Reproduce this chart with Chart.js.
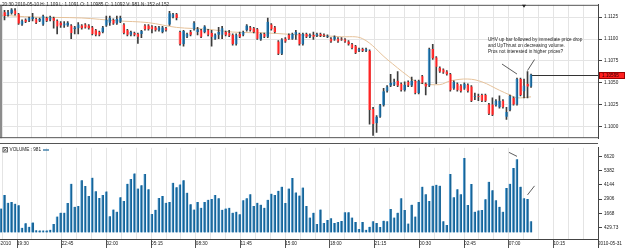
<!DOCTYPE html>
<html><head><meta charset="utf-8">
<script src="https://cdn.jsdelivr.net/npm/chart.js@4.4.1/dist/chart.umd.min.js"></script>
<style>
html,body{margin:0;padding:0;background:#fff;overflow:hidden}
#wrap{position:relative;width:625px;height:248px;background:#fff}
canvas{position:absolute;left:0}
#main{top:0}
#vol{top:143px}
</style></head><body>
<div id="wrap"><canvas id="main" width="625" height="143"></canvas><canvas id="vol" width="625" height="105"></canvas></div>
<script>
// ---------- DATA ----------
const opens = [
1.11250,1.11303,1.11271,1.11293,1.11325,1.11282,1.11165,1.11218,1.11207,1.11229,
1.11229,1.11207,1.11165,1.11239,1.11218,1.11239,1.11207,1.11186,1.11154,1.11154,
1.11154,1.11111,1.11122,1.11154,1.11165,1.11154,1.11132,1.11100,1.11079,1.11079,
1.11154,1.11186,1.11218,1.11175,1.11197,1.11165,1.11100,1.11047,1.11068,1.11058,
1.11058,1.11154,1.11154,1.11143,1.11132,1.11100,1.11079,1.11122,1.11165,1.11250,
1.11282,1.11079,1.10940,1.11026,1.11079,1.11111,1.11079,1.11100,1.11079,1.11100,
1.11068,1.11004,1.11047,1.11047,1.11079,1.11068,1.11047,1.10940,1.11058,1.11047,
1.11100,1.11132,1.11122,1.11111,1.10994,1.11058,1.11026,1.11165,1.11132,1.10972,
1.10833,1.11004,1.11047,1.11004,1.11047,1.11058,1.10940,1.11058,1.11026,1.11047,
1.11036,1.11058,1.11047,1.11026,1.11004,1.10994,1.11004,1.11004,1.10994,1.10972,
1.10940,1.10919,1.10865,1.10887,1.10865,1.10865,1.10203,1.10043,1.10117,1.10246,
1.10406,1.10470,1.10481,1.10524,1.10491,1.10417,1.10513,1.10470,1.10524,1.10385,
1.10577,1.10491,1.10470,1.10887,1.10791,1.10673,1.10652,1.10630,1.10598,1.10438,
1.10491,1.10470,1.10438,1.10481,1.10459,1.10342,1.10353,1.10363,1.10363,1.10256,
1.10256,1.10246,1.10224,1.10299,1.10117,1.10192,1.10331,1.10256,1.10545,1.10406,
1.10491,1.10459];
const highs = [
1.11335,1.11325,1.11325,1.11346,1.11346,1.11293,1.11218,1.11229,1.11250,1.11293,
1.11239,1.11239,1.11271,1.11250,1.11261,1.11250,1.11218,1.11197,1.11197,1.11197,
1.11165,1.11143,1.11186,1.11165,1.11175,1.11165,1.11143,1.11111,1.11090,1.11143,
1.11261,1.11261,1.11229,1.11261,1.11261,1.11175,1.11111,1.11090,1.11079,1.11068,
1.11100,1.11165,1.11165,1.11154,1.11143,1.11143,1.11143,1.11132,1.11314,1.11293,
1.11293,1.11090,1.11100,1.11068,1.11100,1.11197,1.11132,1.11111,1.11154,1.11111,
1.11100,1.11058,1.11132,1.11143,1.11090,1.11100,1.11058,1.11058,1.11079,1.11090,
1.11165,1.11143,1.11132,1.11122,1.11068,1.11068,1.11239,1.11175,1.11143,1.10983,
1.11004,1.11015,1.11058,1.11068,1.11100,1.11068,1.11068,1.11068,1.11058,1.11079,
1.11068,1.11068,1.11058,1.11047,1.11015,1.11036,1.11015,1.11015,1.11004,1.10983,
1.10951,1.10929,1.10897,1.10897,1.10897,1.10876,1.10224,1.10128,1.10256,1.10438,
1.10470,1.10598,1.10545,1.10630,1.10502,1.10513,1.10524,1.10566,1.10534,1.10534,
1.10588,1.10502,1.10897,1.10940,1.10801,1.10684,1.10662,1.10641,1.10609,1.10524,
1.10502,1.10481,1.10502,1.10491,1.10470,1.10385,1.10374,1.10374,1.10374,1.10267,
1.10331,1.10310,1.10353,1.10310,1.10224,1.10363,1.10342,1.10556,1.10556,1.10545,
1.10630,1.10600];
const lows = [
1.11239,1.11218,1.11261,1.11282,1.11271,1.11165,1.11154,1.11186,1.11197,1.11207,
1.11175,1.11197,1.11154,1.11197,1.11207,1.11122,1.11058,1.11132,1.11132,1.11143,
1.11004,1.11058,1.11058,1.11111,1.11122,1.11111,1.11047,1.11036,1.11036,1.11068,
1.11143,1.11154,1.11165,1.11165,1.11186,1.11058,1.11036,1.11036,1.11036,1.10951,
1.11015,1.11100,1.11100,1.11068,1.11090,1.11090,1.11068,1.11090,1.11154,1.11239,
1.11218,1.10929,1.10919,1.11015,1.11036,1.11100,1.11047,1.11015,1.11068,1.11036,
1.10919,1.10994,1.11004,1.11004,1.11036,1.11026,1.10929,1.10929,1.11015,1.11036,
1.11090,1.11090,1.11068,1.10994,1.10983,1.11015,1.11015,1.11100,1.11068,1.10823,
1.10823,1.10962,1.10994,1.10994,1.10994,1.10929,1.10929,1.11015,1.11015,1.10994,
1.11026,1.11026,1.11026,1.11015,1.10962,1.10983,1.10962,1.10983,1.10962,1.10929,
1.10887,1.10833,1.10855,1.10855,1.10855,1.10032,1.09904,1.09936,1.10107,1.10235,
1.10395,1.10459,1.10470,1.10459,1.10406,1.10406,1.10459,1.10459,1.10374,1.10374,
1.10491,1.10363,1.10459,1.10769,1.10491,1.10620,1.10609,1.10588,1.10406,1.10427,
1.10406,1.10395,1.10427,1.10395,1.10288,1.10310,1.10299,1.10288,1.10288,1.10139,
1.10128,1.10235,1.10214,1.10214,1.10085,1.10182,1.10246,1.10246,1.10353,1.10331,
1.10331,1.10449];
const closes = [
1.11314,1.11261,1.11303,1.11335,1.11282,1.11175,1.11207,1.11197,1.11239,1.11250,
1.11186,1.11229,1.11261,1.11207,1.11250,1.11207,1.11143,1.11154,1.11175,1.11186,
1.11068,1.11132,1.11165,1.11122,1.11132,1.11122,1.11058,1.11047,1.11047,1.11132,
1.11218,1.11239,1.11175,1.11229,1.11239,1.11068,1.11047,1.11079,1.11047,1.11026,
1.11090,1.11111,1.11111,1.11111,1.11100,1.11132,1.11132,1.11100,1.11293,1.11282,
1.11239,1.10940,1.11090,1.11058,1.11047,1.11186,1.11111,1.11026,1.11143,1.11047,
1.11026,1.11047,1.11079,1.11122,1.11047,1.11036,1.10940,1.11047,1.11026,1.11079,
1.11154,1.11100,1.11079,1.11004,1.11058,1.11026,1.11197,1.11111,1.11079,1.10833,
1.10994,1.10972,1.11004,1.11058,1.11079,1.10940,1.11058,1.11026,1.11047,1.11026,
1.11058,1.11036,1.11036,1.11036,1.10972,1.11026,1.10972,1.10994,1.10972,1.10940,
1.10897,1.10844,1.10887,1.10865,1.10887,1.10192,1.10032,1.10117,1.10246,1.10406,
1.10459,1.10502,1.10513,1.10470,1.10417,1.10481,1.10470,1.10524,1.10385,1.10524,
1.10502,1.10459,1.10887,1.10780,1.10684,1.10630,1.10620,1.10598,1.10417,1.10513,
1.10417,1.10406,1.10491,1.10406,1.10299,1.10353,1.10342,1.10299,1.10299,1.10150,
1.10139,1.10299,1.10299,1.10224,1.10171,1.10353,1.10256,1.10545,1.10363,1.10470,
1.10459,1.10595];
const volumes = [
2083,3259,2587,2646,2503,2369,403,798,487,857,
185,175,175,175,235,739,1386,1722,1722,2562,
4242,2226,2310,4550,4046,3175,4771,3595,3007,3259,
3570,1411,2000,1806,3066,2730,4242,4662,5141,3822,
4102,5082,3763,1613,1974,3007,3175,2587,2646,4326,
3931,4183,4550,3461,2453,2000,2646,2142,2646,2839,
2923,3259,2982,1974,2083,2142,1722,1806,1579,2814,
2982,3318,2310,2587,2419,2142,2839,3377,3259,3629,
3990,2562,3822,4746,3486,3209,3906,2310,1302,1722,
739,2000,823,1075,1243,823,907,991,1747,1747,
1302,907,294,907,235,487,966,823,462,1025,
966,2033,1302,1722,2982,1950,773,2419,1386,2646,
3990,3318,2730,4074,4158,4074,966,655,5082,3066,
3763,3318,6485,2394,4217,1806,1915,1949,2898,4410,
3679,2814,2226,1806,3881,4242,5611,6367,3990,2982,
2923,981];
// moving average read at selected bars
const maBars   = [0, 9, 23, 33, 42, 50, 59, 66, 76, 85, 97, 103, 110, 116, 119, 125, 128, 133, 137, 142, 145, 147, 151];
const maValues = [1.11271,1.11250,1.11239,1.11207,1.11186,1.11132,1.11111,1.11079,1.11068,1.11047,1.11026,1.11004,1.10769,1.10577,1.10502,1.10481,1.10524,1.10545,1.10513,1.10417,1.10363,1.10331,1.10342];

const priceTicks  = [1.1000, 1.1025, 1.1050, 1.1075, 1.1100, 1.1125];
const volumeTicks = [429.73, 1667.79, 2905.85, 4143.9, 5381.96, 6620.02];
const volumeTickLabels = ["429.73", "1668", "2906", "4144", "5382", "6620"];
const firstDateLabel = "10-05-2010";
const timeLabels = ["19:30","22:45","02:00","05:15","08:30","11:45","15:00","18:00","21:15","00:30","02:45","07:00","10:15","2010-05-31"];
const headerText = "20:30 2010-05-10 H: 1.109 L: 1.1091 O: 1.10985 C: 1.1092 V: 981 N: 152 of 152";
const volumeLegend = "VOLUME : 981";
const noteLines = ["UHV up bar followed by immediate price drop", "and UpThrust on decreasing volume.", "Pros not interested in higher prices?"];
const noteBarA = 147, noteBarB = 150;

// ---------- STYLE / LAYOUT ----------
const FAMILY = '"Liberation Sans", Arial, sans-serif';
const FS = 4.7;
const FONT = FS + 'px ' + FAMILY;
const BLUE = '#176497', BLUE_L = '#64a9da', RED = '#ff2424', RED_L = '#ff9a9a';
const GRID = '#e4e4e4', AXIS = '#444';
const X_MIN = -0.285, X_MAX = 170.08;
const LABEL0 = 4.56, GRID_STEP = 4.245;

function buildXTicks() {
  const t = [], lab = [];
  for (let k = -1; k <= 39; k++) {
    let v = LABEL0 + k * GRID_STEP;
    if (v > X_MAX) v = X_MAX;
    t.push({value: v});
    lab.push(k >= 0 && k % 3 === 0 ? timeLabels[k / 3] : '');
  }
  return {t, lab};
}
const xTicks = buildXTicks();
const idx = opens.map((_, i) => i);
const up = idx.map(i => closes[i] >= opens[i]);

// ---------- MAIN PRICE PANE ----------
const mainPlugin = {
  id: 'mainDecor',
  afterDraw(chart) {
    const {ctx, chartArea: a, scales: {x, y}} = chart;
    ctx.save();
    ctx.fillStyle = '#8c8c8c';
    ctx.fillRect(0, a.top, 2, a.bottom - a.top);
    ctx.strokeStyle = '#555'; ctx.lineWidth = 1;
    ctx.beginPath(); ctx.moveTo(0, a.top + 0.5); ctx.lineTo(a.right, a.top + 0.5); ctx.stroke();
    ctx.beginPath(); ctx.moveTo(0, a.bottom - 0.5); ctx.lineTo(a.right, a.bottom - 0.5); ctx.stroke();
    const mx = x.getPixelForValue(noteBarA + 2);
    ctx.fillStyle = '#222';
    ctx.beginPath(); ctx.moveTo(mx - 2, a.top); ctx.lineTo(mx + 2, a.top); ctx.lineTo(mx, a.top + 3); ctx.closePath(); ctx.fill();
    ctx.font = FONT; ctx.fillStyle = '#222'; ctx.textBaseline = 'top'; ctx.textAlign = 'left';
    ctx.fillText(headerText, 2, 2.5);
    const last = closes.length - 1;
    const py = Math.round(y.getPixelForValue(closes[last])) + 0.5;
    ctx.strokeStyle = '#333';
    ctx.beginPath(); ctx.moveTo(x.getPixelForValue(last) + 1, py); ctx.lineTo(a.right, py); ctx.stroke();
    ctx.fillStyle = '#ff1f1f';
    ctx.fillRect(a.right + 1, py - 3.5, 26, 7);
    ctx.strokeStyle = '#9a0000';
    ctx.strokeRect(a.right + 1.5, py - 3, 25, 6);
    ctx.fillStyle = '#2a0000'; ctx.textBaseline = 'middle';
    ctx.fillText(closes[last].toFixed(5), a.right + 4, py);
    const ax = x.getPixelForValue(noteBarA), ay = y.getPixelForValue(highs[noteBarA]);
    const bx = x.getPixelForValue(noteBarB), by = y.getPixelForValue(highs[noteBarB]);
    ctx.strokeStyle = '#333'; ctx.lineWidth = 0.8;
    ctx.beginPath(); ctx.moveTo(ax - 15, ay - 14); ctx.lineTo(ax, ay - 4); ctx.stroke();
    ctx.beginPath(); ctx.moveTo(bx + 7, by - 12); ctx.lineTo(bx, by - 1); ctx.stroke();
    ctx.fillStyle = '#222'; ctx.textBaseline = 'top';
    noteLines.forEach((s, k) => ctx.fillText(s, ax - 29, ay - 41 + k * 6.2));
    ctx.restore();
  }
};

new Chart(document.getElementById('main'), {
  type: 'bar',
  data: {
    datasets: [
      { type: 'line', data: maBars.map((b, k) => ({x: b, y: maValues[k]})), borderColor: '#e6c29a', borderWidth: 1, pointRadius: 0, tension: 0.35, order: 5 },
      { data: idx.map(i => ({x: i, y: [lows[i], highs[i]]})), backgroundColor: '#3c3c3c', barThickness: 1, grouped: false, order: 4 },
      { data: idx.map(i => ({x: i, y: [opens[i], closes[i]]})), backgroundColor: idx.map(i => up[i] ? BLUE : RED),
        borderColor: idx.map(i => up[i] ? BLUE_L : RED_L), borderWidth: {left: 1, right: 0, top: 0, bottom: 0}, borderSkipped: false,
        barThickness: 2.5, grouped: false, order: 1 }
    ]
  },
  options: {
    responsive: false, animation: false, devicePixelRatio: 1, events: [],
    layout: {padding: {top: 1, left: 0, right: 0, bottom: 0}, autoPadding: false},
    plugins: {legend: {display: false}, tooltip: {enabled: false}},
    scales: {
      x: { type: 'linear', min: X_MIN, max: X_MAX, offset: false, bounds: 'data',
        afterBuildTicks: s => { s.ticks = xTicks.t.map(o => ({...o})); },
        afterFit: s => { s.height = 0; },
        ticks: {display: false}, border: {display: false},
        grid: {color: GRID, drawTicks: false, offset: false} },
      y: { position: 'right', min: 1.098718, max: 1.113889,
        afterBuildTicks: s => { s.ticks = priceTicks.map(v => ({value: v})); },
        afterFit: s => { s.width = 27; },
        ticks: {callback: v => Number(v).toFixed(4), font: {family: FAMILY, size: FS}, color: '#222', padding: 2},
        border: {display: true, color: AXIS},
        grid: {color: GRID, tickColor: AXIS, tickLength: 4} }
    }
  },
  plugins: [mainPlugin]
});

// ---------- VOLUME PANE ----------
const volPlugin = {
  id: 'volDecor',
  afterDraw(chart) {
    const {ctx, chartArea: a, scales: {x, y}} = chart;
    ctx.save();
    ctx.strokeStyle = '#555'; ctx.lineWidth = 1;
    ctx.beginPath(); ctx.moveTo(0, 0.5); ctx.lineTo(a.right, 0.5); ctx.stroke();
    ctx.strokeStyle = AXIS;
    ctx.beginPath(); ctx.moveTo(a.right + 0.5, a.bottom); ctx.lineTo(a.right + 0.5, chart.height); ctx.stroke();
    // partially visible first date label
    ctx.font = FONT; ctx.fillStyle = '#222'; ctx.textBaseline = 'middle'; ctx.textAlign = 'right';
    ctx.fillText(firstDateLabel, 11, a.bottom + 4.3);
    // legend
    ctx.textAlign = 'left';
    ctx.strokeStyle = '#444'; ctx.lineWidth = 0.8;
    ctx.strokeRect(3, 4.5, 4.5, 4.5);
    ctx.beginPath(); ctx.moveTo(3.8, 5.3); ctx.lineTo(6.7, 8.2); ctx.moveTo(6.7, 5.3); ctx.lineTo(3.8, 8.2); ctx.stroke();
    ctx.fillText(volumeLegend, 9.5, 7);
    const w = ctx.measureText(volumeLegend).width;
    ctx.strokeStyle = BLUE; ctx.lineWidth = 1.2;
    ctx.beginPath(); ctx.moveTo(9.5 + w + 2, 7); ctx.lineTo(9.5 + w + 8, 7); ctx.stroke();
    const ax = x.getPixelForValue(noteBarA), ay = y.getPixelForValue(volumes[noteBarA]);
    const bx = x.getPixelForValue(noteBarB), by = y.getPixelForValue(volumes[noteBarB]);
    ctx.strokeStyle = '#333'; ctx.lineWidth = 0.8;
    ctx.beginPath(); ctx.moveTo(ax - 8, ay - 7); ctx.lineTo(ax, ay - 3); ctx.stroke();
    ctx.beginPath(); ctx.moveTo(bx + 7, by - 13); ctx.lineTo(bx, by - 4); ctx.stroke();
    ctx.restore();
  }
};

new Chart(document.getElementById('vol'), {
  type: 'bar',
  data: {
    datasets: [
      { data: idx.map(i => ({x: i, y: volumes[i]})), backgroundColor: BLUE, borderColor: BLUE_L,
        borderWidth: {left: 1, right: 0, top: 0, bottom: 0}, borderSkipped: false, barThickness: 2.4 }
    ]
  },
  options: {
    responsive: false, animation: false, devicePixelRatio: 1, events: [],
    layout: {padding: {top: 1, left: 0, right: 0, bottom: 0}, autoPadding: false},
    plugins: {legend: {display: false}, tooltip: {enabled: false}},
    scales: {
      x: { type: 'linear', min: X_MIN, max: X_MAX, offset: false, bounds: 'data',
        afterBuildTicks: s => { s.ticks = xTicks.t.map(o => ({...o})); },
        afterFit: s => { s.height = 9; },
        ticks: {callback: (v, i) => xTicks.lab[i], autoSkip: false, maxRotation: 0, minRotation: 0, align: 'start',
          padding: -7.6, font: {family: FAMILY, size: FS}, color: '#222'},
        border: {display: true, color: AXIS},
        grid: {color: GRID, offset: false, tickLength: 9, tickColor: c => (xTicks.lab[c.index] ? '#555' : 'rgba(0,0,0,0)')} },
      y: { position: 'right', min: -574, max: 7373,
        afterBuildTicks: s => { s.ticks = volumeTicks.map(v => ({value: v})); },
        afterFit: s => { s.width = 27; },
        ticks: {callback: (v, i) => volumeTickLabels[i], font: {family: FAMILY, size: FS}, color: '#222', padding: 2},
        border: {display: true, color: AXIS},
        grid: {drawOnChartArea: false, tickColor: AXIS, tickLength: 4} }
    }
  },
  plugins: [volPlugin]
});
</script>
</body></html>
